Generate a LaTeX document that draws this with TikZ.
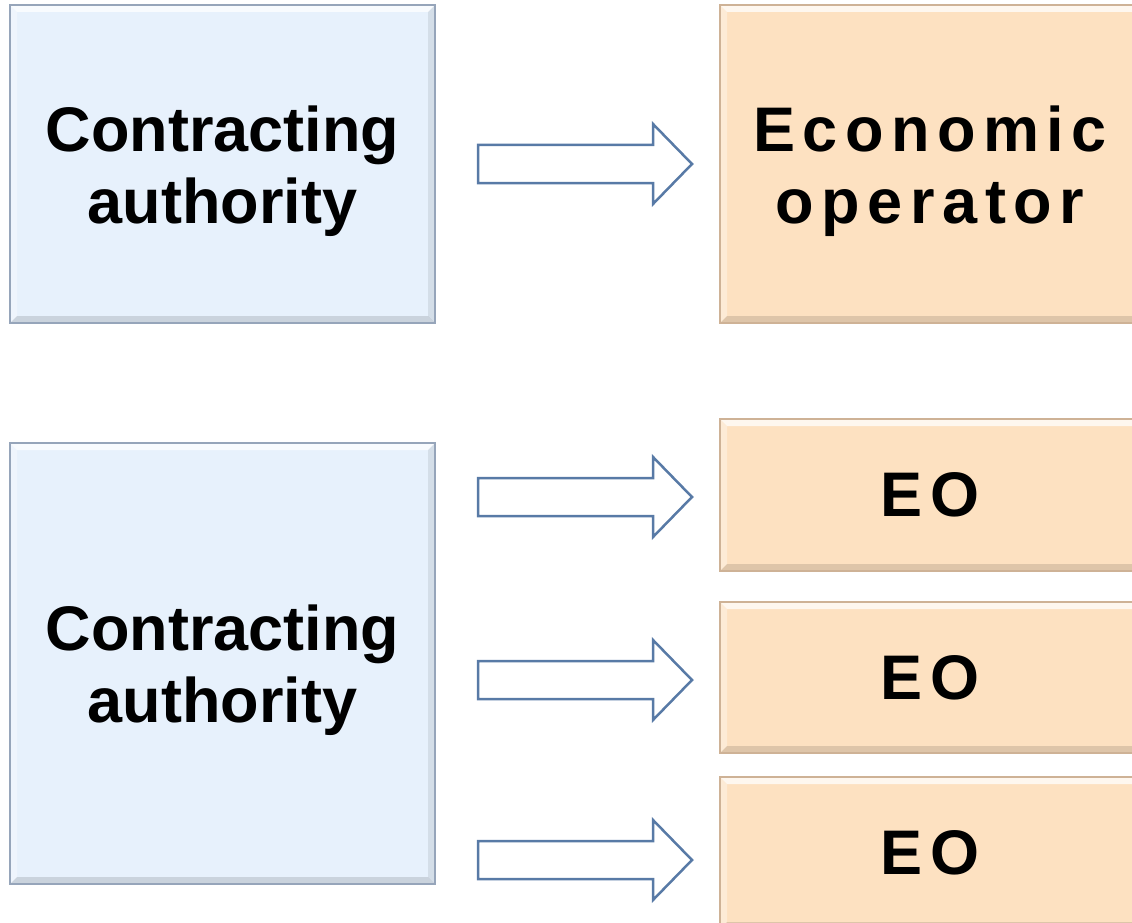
\documentclass[tikz,border=0pt]{standalone}
\usepackage{fontspec}
\setmainfont{Liberation Sans}
\newfontfamily\spacedfont{Liberation Sans}[LetterSpace=12]
\usetikzlibrary{calc}

\definecolor{cafill}{RGB}{231,241,252}
\definecolor{cadraw}{RGB}{150,165,186}
\definecolor{eofill}{RGB}{253,225,193}
\definecolor{eodraw}{RGB}{206,178,150}
\definecolor{arrowdraw}{RGB}{88,122,166}

\tikzset{
  bevel/.style={path picture={
    \fill[white, opacity=.75] (path picture bounding box.north west) -- (path picture bounding box.north east)
      -- ++(-7,7) -- ($(path picture bounding box.north west)+(7,7)$) -- cycle;
    \fill[white, opacity=.35] (path picture bounding box.north west) -- ($(path picture bounding box.north west)+(7,7)$)
      -- ($(path picture bounding box.south west)+(7,-7)$) -- (path picture bounding box.south west) -- cycle;
    \fill[black, opacity=.12] (path picture bounding box.south west) -- (path picture bounding box.south east)
      -- ++(-7,-7) -- ($(path picture bounding box.south west)+(7,-7)$) -- cycle;
    \fill[black, opacity=.08] (path picture bounding box.north east) -- ++(-7,7)
      -- ($(path picture bounding box.south east)+(-7,-7)$) -- (path picture bounding box.south east) -- cycle;
  }},
  cabox/.style={draw=cadraw, fill=cafill, bevel, line width=2pt, inner sep=0pt, minimum width=425pt,
    align=center, font=\bfseries\fontsize{63pt}{72pt}\selectfont},
  eobox/.style={draw=eodraw, fill=eofill, bevel, line width=2pt, inner sep=0pt, minimum width=420pt,
    align=center, font=\spacedfont\bfseries\fontsize{63pt}{72pt}\selectfont},
  bigarrow/.style={draw=arrowdraw, fill=white, line width=2.5pt, line join=miter}
}

\begin{document}
\begin{tikzpicture}[x=1pt, y=-1pt]
  \useasboundingbox (0,0) rectangle (1132,923);
  % left boxes
  \node[cabox, minimum height=318pt] (ca1) at (222.5,164) {\rule{0pt}{60pt}Contracting\\authority};
  \node[cabox, minimum height=441pt] (ca2) at (222.5,663.5) {\rule{0pt}{60pt}Contracting\\authority};
  % right boxes
  \node[eobox, minimum height=318pt] (eo1) at (930,164) {\rule{0pt}{60pt}Economic\\operator};
  \node[eobox, minimum height=152pt] (eo2) at (930,495) {EO};
  \node[eobox, minimum height=151pt] (eo3) at (930,677.5) {EO};
  \node[eobox, minimum height=152pt] (eo4) at (930,853) {EO};
  % block arrows
  \foreach \ca/\eo/\dy in {ca1/eo1/0, ca2/eo2/2, ca2/eo3/2.5, ca2/eo4/7}{
    \draw[bigarrow] ($(\ca.east |- \eo.west)+(42,\dy-19)$) -- ($(\eo.west)+(-66,\dy-19)$)
      -- ($(\eo.west)+(-66,\dy-40)$) -- ($(\eo.west)+(-27,\dy)$) -- ($(\eo.west)+(-66,\dy+40)$)
      -- ($(\eo.west)+(-66,\dy+19)$) -- ($(\ca.east |- \eo.west)+(42,\dy+19)$) -- cycle;
  }
\end{tikzpicture}
\end{document}
